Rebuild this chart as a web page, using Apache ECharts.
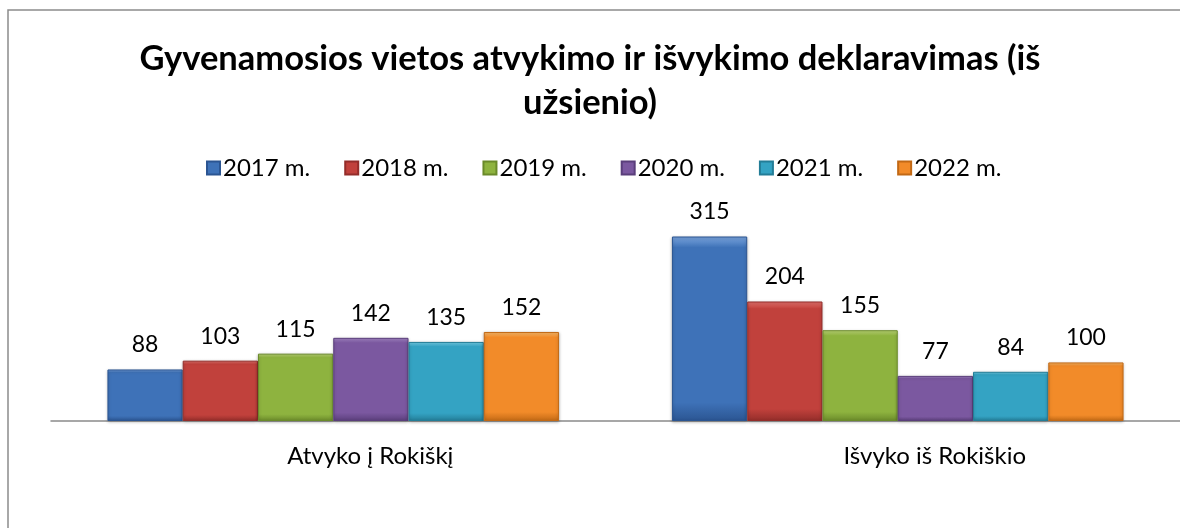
<!DOCTYPE html>
<html>
<head>
<meta charset="utf-8">
<script src="https://cdn.jsdelivr.net/npm/echarts@6/dist/echarts.min.js"></script>
<style>
html,body{margin:0;padding:0;background:#fff;}
#chart{width:1180px;height:528px;}
</style>
</head>
<body>
<div id="chart"></div>
<script>
var titleText = 'Gyvenamosios vietos atvykimo ir išvykimo deklaravimas (iš\nužsienio)';
var categories = ['Atvyko į Rokiškį', 'Išvyko iš Rokiškio'];
var seriesNames = ['2017 m.', '2018 m.', '2019 m.', '2020 m.', '2021 m.', '2022 m.'];
var v2017 = [88, 315];
var v2018 = [103, 204];
var v2019 = [115, 155];
var v2020 = [142, 77];
var v2021 = [135, 84];
var v2022 = [152, 100];
var seriesValues = [v2017, v2018, v2019, v2020, v2021, v2022];

var palette = [
  ['#7aa5de', '#3e72b8', '#2b5592'],
  ['#e5736e', '#c1413c', '#932d2a'],
  ['#c2dc7a', '#8eb33f', '#6a8a2a'],
  ['#a98bcc', '#7b58a0', '#5a3e7b'],
  ['#78d5ee', '#34a3c3', '#237d97'],
  ['#ffbf6e', '#f28b29', '#c26915']
];

var FONT = 'Lato, "Open Sans", sans-serif';

function grad(c) {
  return {
    type: 'linear', x: 0, y: 0, x2: 0, y2: 1,
    colorStops: [
      {offset: 0, color: c[0]},
      {offset: 0.06, color: c[1]},
      {offset: 0.9, color: c[1]},
      {offset: 1, color: c[2]}
    ]
  };
}

var series = seriesNames.map(function (name, i) {
  return {
    name: name,
    type: 'bar',
    data: seriesValues[i],
    barGap: '0%',
    barCategoryGap: '20%',
    itemStyle: {
      color: grad(palette[i]),
      borderColor: palette[i][2],
      borderWidth: 1,
      shadowColor: 'rgba(0,0,0,0.25)',
      shadowBlur: 3,
      shadowOffsetY: 1
    },
    label: {
      show: true,
      position: 'top',
      distance: 13,
      fontFamily: FONT,
      fontSize: 23,
      color: '#000'
    }
  };
});

var chart = echarts.init(document.getElementById('chart'), null, {renderer: 'canvas'});
chart.setOption({
  animation: false,
  backgroundColor: '#fff',
  title: {
    text: titleText,
    left: 'center',
    top: 37,
    padding: [0, 0, 0, 16],
    textStyle: {
      fontFamily: FONT,
      fontWeight: 'bold',
      fontSize: 34.5,
      lineHeight: 44,
      color: '#000'
    }
  },
  legend: {
    data: seriesNames,
    left: 206,
    top: 156,
    padding: 0,
    itemWidth: 13,
    itemHeight: 13,
    itemGap: 34,
    icon: 'rect',
    textStyle: {
      fontFamily: FONT,
      fontSize: 24,
      lineHeight: 24,
      color: '#000',
      padding: [0, 0, 0, -2]
    }
  },
  grid: {
    left: 51,
    right: -3,
    top: 216,
    bottom: 107,
    containLabel: false
  },
  xAxis: {
    type: 'category',
    data: categories,
    axisLine: {show: true, lineStyle: {color: '#8a8a8a', width: 1.5}},
    axisTick: {show: false},
    axisLabel: {
      fontFamily: FONT,
      fontSize: 24,
      color: '#000',
      margin: 23,
      padding: [0, 0, 0, 74]
    }
  },
  yAxis: {
    type: 'value',
    min: 0,
    max: 350,
    show: false,
    splitLine: {show: false}
  },
  graphic: [{
    type: 'rect',
    shape: {x: 8, y: 10, width: 1300, height: 700},
    style: {fill: null, stroke: '#8c8c8c', lineWidth: 1.5},
    silent: true
  }],
  series: series
});
</script>
</body>
</html>
